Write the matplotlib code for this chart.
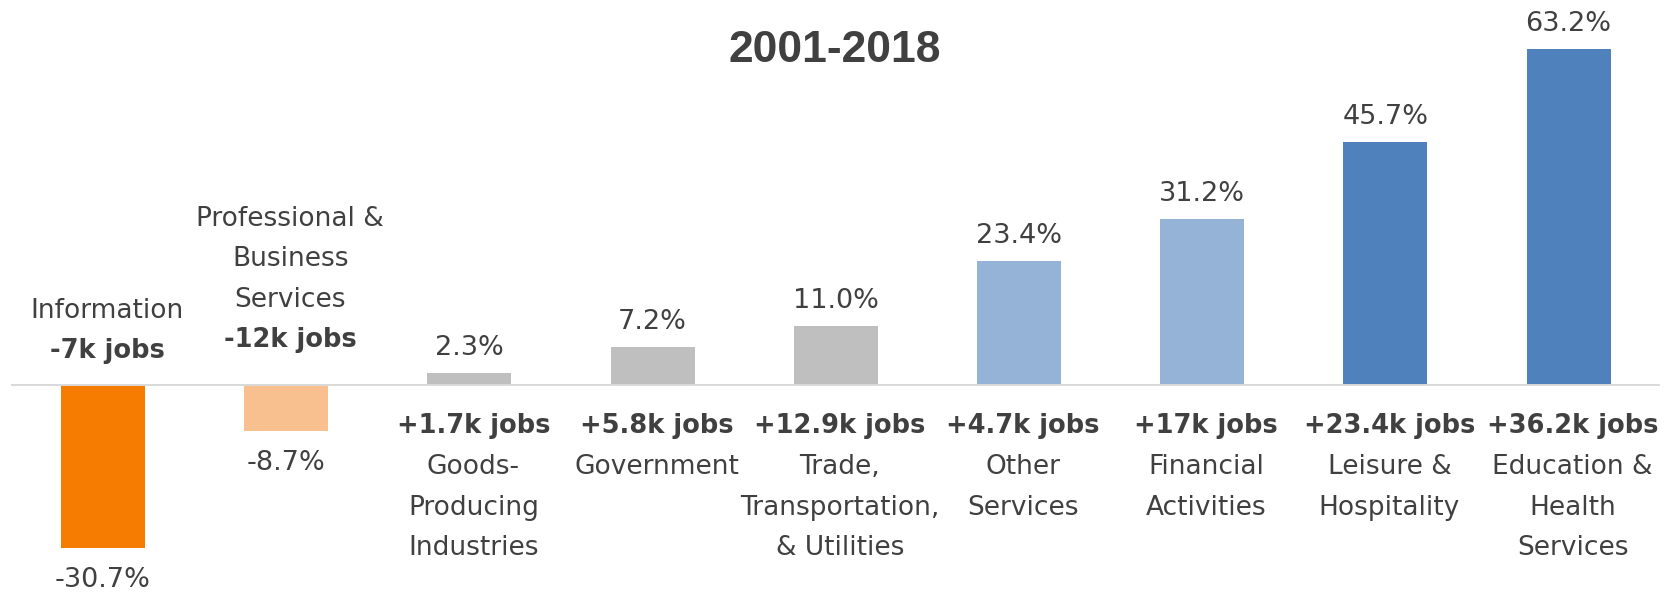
import matplotlib
matplotlib.use("Agg")
import matplotlib.pyplot as plt

# Employment change by industry, 2001-2018
categories = [
    "Information",
    "Professional &\nBusiness\nServices",
    "Goods-\nProducing\nIndustries",
    "Government",
    "Trade,\nTransportation,\n& Utilities",
    "Other\nServices",
    "Financial\nActivities",
    "Leisure &\nHospitality",
    "Education &\nHealth\nServices",
]
pct_change = [-30.7, -8.7, 2.3, 7.2, 11.0, 23.4, 31.2, 45.7, 63.2]
jobs_change_k = [-7, -12, 1.7, 5.8, 12.9, 4.7, 17, 23.4, 36.2]
title_text = "2001-2018"

bar_colors = ["#F57C00", "#F9C08F", "#BFBFBF", "#BFBFBF", "#BFBFBF",
              "#95B3D7", "#95B3D7", "#4F81BD", "#4F81BD"]
text_color = "#404040"

plt.rcParams["font.family"] = ["DejaVu Sans"]

fig = plt.figure(figsize=(16.67, 5.96), dpi=100)
ax = fig.add_axes([0, 0, 1, 1])
ax.set_xlim(-0.5622, 8.537)
ax.set_ylim(-39.66, 72.37)
ax.axis("off")

x = list(range(len(categories)))
ax.bar(x, pct_change, width=0.4585, color=bar_colors, zorder=2)
ax.plot([-0.5, 8.5], [0, 0], color="#D9D9D9", lw=1.4, zorder=3,
        solid_capstyle="butt")

line_gap = 40.5
pct_size = 19.5
cat_size = 19
jobs_size = 18.5
label_dx = 4

for i, (cat, pct, jobs) in enumerate(zip(categories, pct_change, jobs_change_k)):
    pct_label = f"{pct:.1f}%"
    jobs_label = f"{jobs:+g}k jobs"
    cat_lines = cat.split("\n")
    if pct >= 0:
        ax.annotate(pct_label, (i, pct), xytext=(0, 18), textcoords="offset pixels",
                    ha="center", va="baseline", fontsize=pct_size, color=text_color)
        ax.annotate(jobs_label, (i, 0), xytext=(label_dx, -48), textcoords="offset pixels",
                    ha="center", va="baseline", fontsize=jobs_size,
                    fontweight="bold", color=text_color)
        for k, line in enumerate(cat_lines):
            ax.annotate(line, (i, 0), xytext=(label_dx, -89 - line_gap * k),
                        textcoords="offset pixels", ha="center", va="baseline",
                        fontsize=cat_size, color=text_color)
    else:
        ax.annotate(pct_label, (i, pct), xytext=(0, -39), textcoords="offset pixels",
                    ha="center", va="baseline", fontsize=pct_size, color=text_color)
        lift = 27 if len(cat_lines) == 1 else 38
        ax.annotate(jobs_label, (i, 0), xytext=(label_dx, lift), textcoords="offset pixels",
                    ha="center", va="baseline", fontsize=jobs_size,
                    fontweight="bold", color=text_color)
        n = len(cat_lines)
        for k, line in enumerate(cat_lines):
            ax.annotate(line, (i, 0), xytext=(label_dx, lift + line_gap * (n - k)),
                        textcoords="offset pixels", ha="center", va="baseline",
                        fontsize=cat_size, color=text_color)

fig.text(834.5 / 1667, 1 - 61.7 / 596, title_text, ha="center", va="baseline",
         fontsize=32, fontweight="bold", color=text_color,
         family=["Liberation Sans", "DejaVu Sans"])

fig.savefig("out.png", dpi=100, facecolor="white")
